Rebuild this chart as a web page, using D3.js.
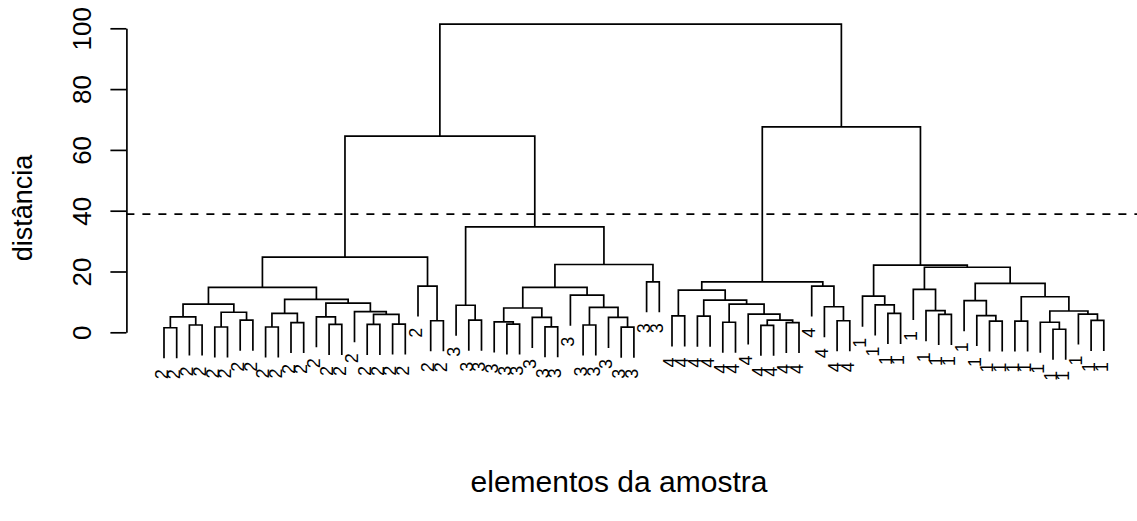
<!DOCTYPE html>
<html>
<head>
<meta charset="utf-8">
<script src="https://cdn.jsdelivr.net/npm/d3@7"></script>
<style>
  html, body { margin: 0; padding: 0; background: #fff; }
  svg { display: block; font-family: "Liberation Sans", Arial, Helvetica, sans-serif; }
</style>
</head>
<body>
<div id="chart"></div>
<script>
// Leaf labels (group of each sample), in the left-to-right order of the plot.
var leafLabels = [
  "2","2","2","2","2","2","2","2","2","2","2","2","2","2","2","2","2","2","2","2","2","2","2",
  "3","3","3","3","3","3","3","3","3","3","3","3","3","3","3","3","3",
  "4","4","4","4","4","4","4","4","4","4","4","4","4","4","4",
  "1","1","1","1","1","1","1","1","1","1","1","1","1","1","1","1","1","1","1","1"
];

// hclust-style merge steps: negative = leaf (1-based position), positive = earlier step.
var merges = [
  [-1,-2], [-3,-4], [1,2], [-5,-6], [-7,-8], [4,5], [3,6], [-9,-10], [-11,-12], [8,9],
  [-14,-15], [-13,11], [-17,-18], [-19,-20], [13,14], [-16,15], [12,16], [10,17], [7,18],
  [-22,-23], [-21,20], [19,21],
  [-25,-26], [-24,23], [-28,-29], [-27,25], [-31,-32], [-30,27], [26,28], [-34,-35],
  [-37,-38], [-36,31], [30,32], [-33,33], [29,34], [-39,-40], [35,36], [24,37], [22,38],
  [-41,-42], [-43,-44], [-45,-46], [-48,-49], [-50,-51], [43,44], [-47,45], [42,46],
  [41,47], [40,48], [-54,-55], [-53,50], [-52,51], [49,52],
  [-58,-59], [-57,54], [-56,55], [-62,-63], [-61,57], [-60,58], [-66,-67], [-65,60],
  [-64,61], [-68,-69], [-71,-72], [-70,64], [-74,-75], [-73,66], [65,67], [63,68],
  [62,69], [59,70], [56,71], [53,72], [39,73]
];

// Height (distance) of each merge step, same order as merges.
var heights = [
  1.5, 2.4, 5.1, 1.75, 4.0, 6.6, 9.3, 1.75, 3.2, 6.2,
  2.6, 5.1, 2.6, 2.7, 5.9, 6.8, 9.6, 10.8, 14.8,
  3.8, 15.2, 24.7,
  4.0, 8.9, 2.7, 3.4, 1.8, 4.9, 8.0, 2.4,
  1.7, 4.9, 8.2, 12.2, 14.8, 16.6, 22.3, 34.7, 64.5,
  5.4, 5.3, 3.3, 2.3, 3.2, 4.0, 6.0, 9.3,
  10.6, 13.9, 3.8, 8.4, 15.2, 16.6,
  6.2, 9.0, 11.9, 5.9, 7.1, 14.1, 3.7, 5.5,
  10.4, 3.7, 1.0, 3.3, 3.9, 6.0, 7.0, 11.7,
  16.1, 21.4, 22.1, 67.6, 101.4
];

var yTicks = [0, 20, 40, 60, 80, 100];
var cutHeight = 38.9;
var xTitle = "elementos da amostra";
var yTitle = "dist\u00e2ncia";

(function () {
  var W = 1137, H = 521;
  var n = leafLabels.length;
  var hang = 0.1 * (d3.max(heights) - d3.min(heights));

  // R pads the usr range by 4% on each side of the leaves 1..n
  var x = d3.scaleLinear()
    .domain([1 - 0.04 * (n - 1), n + 0.04 * (n - 1)])
    .range([126.4, 1141.4]);
  var y = d3.scaleLinear().domain([0, 100]).range([332.3, 28.3]);

  var svg = d3.select("#chart").append("svg")
    .attr("width", W).attr("height", H)
    .attr("viewBox", [0, 0, W, H]);

  // -- node positions: a merge sits midway between its two children -------
  var nodeX = [];
  var leafTop = {};
  function childX(c) { return c < 0 ? x(-c) : nodeX[c - 1]; }
  function childBottom(c, h) { return c < 0 ? h - hang : heights[c - 1]; }
  merges.forEach(function (m, i) {
    nodeX[i] = (childX(m[0]) + childX(m[1])) / 2;
    m.forEach(function (c) { if (c < 0) leafTop[-c] = heights[i]; });
  });

  // -- dendrogram segments ------------------------------------------------
  svg.append("g")
    .attr("fill", "none").attr("stroke", "#000").attr("stroke-width", 1.7)
    .selectAll("path")
    .data(merges).join("path")
    .attr("d", function (m, i) {
      var h = heights[i];
      return "M" + childX(m[0]) + "," + y(childBottom(m[0], h)) +
        "V" + y(h) + "H" + childX(m[1]) + "V" + y(childBottom(m[1], h));
    });

  // -- leaf labels, rotated, hanging under each leaf ------------------------
  svg.append("g")
    .attr("font-size", 18).attr("text-anchor", "end")
    .selectAll("text")
    .data(leafLabels).join("text")
    .attr("transform", function (d, i) {
      var leaf = i + 1;
      return "translate(" + x(leaf) + "," + (y(leafTop[leaf] - hang) + 11) + ") rotate(-90)";
    })
    .attr("dy", "0.21em")
    .text(function (d) { return d; });

  // -- cut line -------------------------------------------------------------
  svg.append("line")
    .attr("x1", x.range()[0]).attr("x2", x.range()[1])
    .attr("y1", y(cutHeight)).attr("y2", y(cutHeight))
    .attr("stroke", "#000").attr("stroke-width", 1.7)
    .attr("stroke-dasharray", "8,8");

  // -- y axis, labels parallel to the axis as in base R ---------------------
  var axis = svg.append("g")
    .attr("transform", "translate(" + x.range()[0] + ",0)")
    .call(d3.axisLeft(y).tickValues(yTicks).tickSize(16).tickSizeOuter(0));
  axis.selectAll("path, line").attr("stroke-width", 1.7);
  axis.selectAll("text")
    .attr("x", null).attr("dy", null)
    .attr("transform", "translate(-35.4,0) rotate(-90)")
    .attr("text-anchor", "middle")
    .attr("font-size", 26)
    .attr("font-family", null)
    .attr("fill", "#000");
  axis.attr("font-family", null);

  // -- axis titles ----------------------------------------------------------
  svg.append("text")
    .attr("transform", "translate(31.5,208) rotate(-90)")
    .attr("text-anchor", "middle").attr("font-size", 27)
    .text(yTitle);

  svg.append("text")
    .attr("x", 619).attr("y", 492)
    .attr("text-anchor", "middle").attr("font-size", 30)
    .text(xTitle);
})();
</script>
</body>
</html>
